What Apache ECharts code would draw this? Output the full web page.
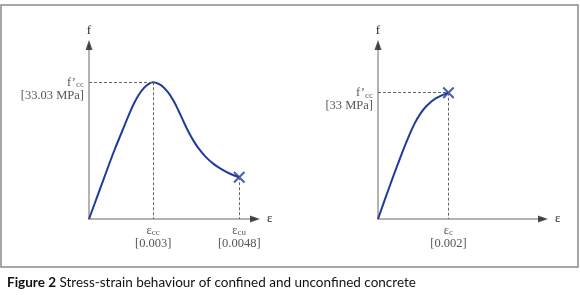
<!DOCTYPE html>
<html>
<head>
<meta charset="utf-8">
<script src="https://cdn.jsdelivr.net/npm/echarts@6/dist/echarts.min.js"></script>
<style>
  html, body { margin: 0; padding: 0; background: #fff; }
  #chart { width: 580px; height: 295px; }
</style>
</head>
<body>
<div id="chart"></div>
<script>
// schematic axes (0-100 drawing units), labels carry the real values
const confinedStrain = [0, 5, 10, 15, 20, 24, 27, 30, 33, 36, 38.7, 42, 45, 48, 51, 54, 57, 60, 63, 66, 70, 75, 80, 85, 90.5];
const confinedStress = [0, 13, 26, 38.8, 50.5, 59.8, 66.2, 71.4, 75.2, 77.7, 78.6, 77.6, 75.6, 72.3, 67.8, 62.1, 55.9, 50.0, 44.9, 40.6, 36.0, 31.7, 28.5, 26.0, 24.0];
const unconfinedStrain = [0, 6, 12, 18, 22, 26, 30, 35, 42.7];
const unconfinedStress = [0, 16, 31.5, 46, 54.5, 61, 65.5, 69.3, 72.6];

const confinedStrainLabels = [['cc', '[0.003]'], ['cu', '[0.0048]']];
const unconfinedStrainLabels = [['c', '[0.002]']];
const confinedPeakLabel = '[33.03 MPa]';
const unconfinedPeakLabel = '[33 MPa]';

const blue = '#1f3c9c';
const grey = '#2a2a2a';
const serif = 'Liberation Serif';

const zip = (a, b) => a.map((v, i) => [v, b[i]]);

const rich = {
  m: { fontFamily: serif, fontSize: 12.5, color: grey, lineHeight: 13 },
  s: { fontFamily: serif, fontSize: 9, color: grey, lineHeight: 13, verticalAlign: 'bottom', padding: [5, 0, 0, 0] },
  n: { fontFamily: serif, fontSize: 12.5, color: grey, lineHeight: 13 },
};

const xMark = 'path://M0,1.5L1.5,0L6,4.5L10.5,0L12,1.5L7.5,6L12,10.5L10.5,12L6,7.5L1.5,12L0,10.5L4.5,6Z';

function buildPanel(idx, xs, ys, strainLabels, peakLabel, peakIdx, endMarker) {
  const pts = zip(xs, ys);
  const peak = pts[peakIdx];
  const last = pts[pts.length - 1];
  const lines = [
    [{ coord: [0, peak[1]] }, { coord: peak }],
    [{ coord: peak }, { coord: [peak[0], 0] }],
  ];
  if (last !== peak) lines.push([{ coord: last }, { coord: [last[0], 0] }]);
  const keyXs = last !== peak ? [peak[0], last[0]] : [peak[0]];

  return [
    {
      type: 'line', xAxisIndex: idx, yAxisIndex: idx, data: pts,
      smooth: 0.4, showSymbol: false, z: 3,
      lineStyle: { color: blue, width: 2 },
      markLine: {
        silent: true, symbol: 'none', animation: false,
        label: { show: false },
        lineStyle: { color: '#666', width: 1, type: [3, 2] },
        data: lines,
      },
    },
    {
      type: 'scatter', xAxisIndex: idx, yAxisIndex: idx, data: endMarker ? [last] : [],
      symbol: xMark, symbolSize: 12, itemStyle: { color: blue }, z: 4,
    },
    {
      // axis arrow heads
      type: 'scatter', xAxisIndex: idx, yAxisIndex: idx, clip: false, silent: true,
      symbol: 'triangle', symbolSize: [7, 10], itemStyle: { color: '#222' },
      data: [{ value: [100, 0], symbolRotate: -90 }, { value: [0, 100] }],
    },
    {
      // stress label
      type: 'scatter', xAxisIndex: idx, yAxisIndex: idx, clip: false, silent: true,
      symbolSize: 0, data: [[0, peak[1]]],
      label: {
        show: true, position: 'left', distance: 5, offset: [0, 7], align: 'right',
        formatter: '{m|f\u2019}{s|cc}\n{n|' + peakLabel + '}', rich: rich,
      },
    },
    {
      // strain labels
      type: 'scatter', xAxisIndex: idx, yAxisIndex: idx, clip: false, silent: true,
      symbolSize: 0, data: keyXs.map((x) => [x, 0]),
      label: {
        show: true, position: 'bottom', distance: 5, align: 'center',
        formatter: (p) => {
          const l = strainLabels[p.dataIndex];
          return '{m|\u03b5}{s|' + l[0] + '}\n{n|' + l[1] + '}';
        },
        rich: rich,
      },
    },
  ];
}

const axisCommon = {
  type: 'value', min: 0, max: 100,
  axisLine: { show: true, lineStyle: { color: '#9a9a9a', width: 1.5 } },
  axisTick: { show: false }, axisLabel: { show: false }, splitLine: { show: false },
  nameTextStyle: { fontFamily: serif, fontSize: 13, color: grey },
};

const chart = echarts.init(document.getElementById('chart'));
chart.setOption({
  animation: false,
  backgroundColor: '#fff',
  title: {
    left: 2, top: 271,
    text: '{b|Figure 2} Stress-strain behaviour of confined and unconfined concrete',
    textStyle: {
      fontFamily: 'Lato', fontSize: 13.5, color: '#111', fontWeight: 'normal',
      rich: { b: { fontFamily: 'Lato', fontSize: 13.5, fontWeight: 'bold', color: '#111' } },
    },
  },
  graphic: [{
    type: 'rect', shape: { x: 1, y: 5, width: 577, height: 262 },
    style: { fill: 'none', stroke: '#8a8a8a', lineWidth: 1.5 }, silent: true,
  }],
  grid: [
    { left: 89, top: 45, width: 166, height: 174 },
    { left: 378, top: 45, width: 165, height: 174 },
  ],
  xAxis: [
    Object.assign({ gridIndex: 0, name: '\u03b5', nameGap: 12 }, axisCommon),
    Object.assign({ gridIndex: 1, name: '\u03b5', nameGap: 12 }, axisCommon),
  ],
  yAxis: [
    Object.assign({ gridIndex: 0, name: 'f', nameGap: 8 }, axisCommon),
    Object.assign({ gridIndex: 1, name: 'f', nameGap: 8 }, axisCommon),
  ],
  series: [
    ...buildPanel(0, confinedStrain, confinedStress, confinedStrainLabels, confinedPeakLabel, 10, true),
    ...buildPanel(1, unconfinedStrain, unconfinedStress, unconfinedStrainLabels, unconfinedPeakLabel, 8, true),
  ],
});
</script>
</body>
</html>
